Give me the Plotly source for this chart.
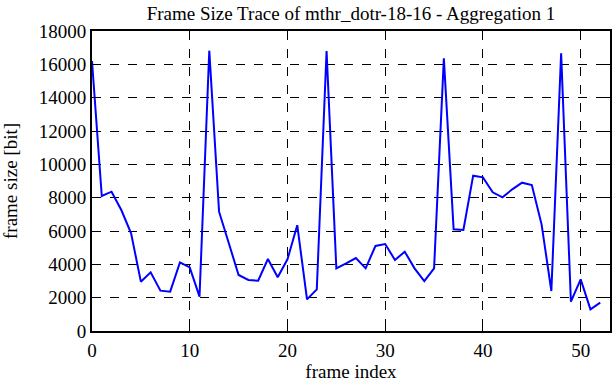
import plotly.graph_objects as go

frame_index = list(range(53))
frame_size = [16200, 8100, 8360, 7260, 5860, 2960, 3520, 2420, 2360, 4120,
              3820, 2060, 16820, 7160, 5260, 3360, 3060, 3020, 4320, 3220,
              4300, 6350, 1900, 2500, 16800, 3760, 4060, 4380, 3760, 5100,
              5220, 4260, 4760, 3760, 3000, 3760, 16360, 6100, 6060, 9320,
              9220, 8320, 8020, 8500, 8900, 8760, 6400, 2400, 16660, 1760,
              3100, 1300, 1700]

x_ticks = [0, 10, 20, 30, 40, 50]
y_ticks = list(range(0, 18001, 2000))
y_tick_labels = [str(v) for v in y_ticks]

font = "Liberation Serif"
fs = 19

fig = go.Figure()
fig.add_trace(go.Scatter(x=frame_index, y=frame_size, mode="lines",
                         line=dict(color="#0000ff", width=2), showlegend=False))

axis_common = dict(showline=True, linecolor="black", linewidth=2, mirror="ticks",
                   ticks="inside", ticklen=5, tickwidth=1, tickcolor="black",
                   showgrid=True, gridcolor="black", gridwidth=1, griddash="dash",
                   zeroline=False, automargin=False,
                   tickfont=dict(family=font, size=fs, color="black"))

fig.update_xaxes(range=[0, 53], tickvals=x_ticks, ticktext=[str(v) for v in x_ticks],
                 ticklabelstandoff=1,
                 title=dict(text="frame index", font=dict(family=font, size=fs, color="black"), standoff=9),
                 **axis_common)
fig.update_yaxes(range=[0, 18000], tickvals=y_ticks, ticktext=y_tick_labels,
                 title=dict(text="frame size [bit]", font=dict(family=font, size=fs, color="black"), standoff=20),
                 **axis_common)

fig.update_layout(
    width=612, height=382,
    margin=dict(l=92, r=2, t=31, b=51),
    font=dict(family=font, size=fs, color="black"),
    paper_bgcolor="white", plot_bgcolor="white",
    title=dict(text="Frame Size Trace of mthr_dotr-18-16 - Aggregation 1",
               font=dict(family=font, size=fs, color="black"),
               x=0.5, xanchor="center", y=0.966, yanchor="middle", xref="paper"),
)

fig.write_html("out.html", config={"displayModeBar": False},
               post_script="document.body.style.margin='0';document.body.style.padding='0';")
